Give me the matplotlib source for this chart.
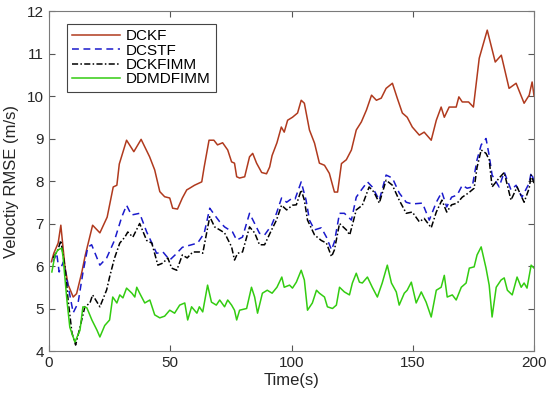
import numpy as np
import matplotlib
matplotlib.use('Agg')
import matplotlib.pyplot as plt

plt.rcParams['font.family'] = ['Liberation Sans', 'DejaVu Sans']

# data
t_dckf = [1, 2, 3.8, 4.9, 6.6, 7.9, 10, 11.4, 13.5, 15, 18, 21, 24, 26.5, 28, 29, 32, 35, 38,
          41.5, 43.6, 45.7, 47.7, 49.8, 51, 53, 55, 56.8, 58, 60, 63, 64, 66, 68, 69.5, 71.6,
          73.7, 75.3, 76.5, 77.4, 78.6, 80.7, 82.7, 84, 85.6, 87.7, 89.7, 91, 92, 94, 95.8, 97,
          98.4, 100.4, 102.5, 104, 105.3, 107.4, 109.5, 111.5, 113.6, 115.6, 117.7, 119, 120.6,
          122.6, 124.7, 126.7, 128.8, 130.9, 133, 135, 137, 139, 141.6, 143.6, 145.7, 147.7,
          149.8, 152.7, 154.7, 157.6, 159.7, 161.7, 163, 165, 167.9, 169, 170.4, 173, 175,
          177.4, 180.7, 184, 186.5, 189.7, 192.6, 195.9, 198, 199.2, 200]
v_dckf = [6.1, 6.3, 6.54, 6.96, 5.98, 5.56, 5.27, 5.35, 5.84, 6.26, 6.96, 6.78, 7.15, 7.86, 7.9,
          8.4, 8.96, 8.69, 8.98, 8.57, 8.26, 7.75, 7.63, 7.6, 7.36, 7.34, 7.6, 7.79, 7.83, 7.9,
          7.98, 8.33, 8.96, 8.96, 8.85, 8.9, 8.73, 8.45, 8.42, 8.1, 8.07, 8.1, 8.57, 8.65, 8.42,
          8.2, 8.17, 8.33, 8.6, 8.9, 9.27, 9.15, 9.43, 9.5, 9.6, 9.9, 9.83, 9.2, 8.89, 8.42,
          8.37, 8.18, 7.74, 7.74, 8.41, 8.5, 8.73, 9.2, 9.39, 9.67, 10.02, 9.9, 9.95, 10.18,
          10.3, 9.95, 9.6, 9.5, 9.27, 9.08, 9.15, 8.96, 9.43, 9.74, 9.5, 9.74, 9.74, 9.98, 9.86,
          9.86, 9.74, 10.89, 11.55, 10.8, 10.96, 10.18, 10.3, 9.83, 10.02, 10.33, 10.0]

t_dcstf = [1.7, 3.2, 4.2, 6, 8, 10, 12, 14, 16, 17.6, 21, 23.8, 27, 30, 32, 34, 37.4, 40.3,
           44.4, 47, 49.8, 52, 55, 58.8, 61.3, 64, 66.3, 68.3, 70.4, 72.4, 75.7, 77.4, 79.8,
           82.7, 84.8, 86.8, 88.9, 91.8, 93.8, 95.9, 98, 100.4, 101.5, 104, 106, 107.4, 109.5,
           112.3, 114.4, 116.5, 117.7, 119.8, 121.8, 124.7, 126.7, 128.8, 131.3, 133.3, 136.2,
           139, 141.6, 144.4, 147.3, 149.8, 154, 156.8, 159.7, 162, 164, 166, 168.3, 170.4,
           172.4, 174.5, 176.5, 178.2, 180.2, 181.5, 182.7, 185.6, 187.7, 190.5, 192.6, 195,
           198, 198.8, 200]
v_dcstf = [6.1, 6.3, 5.86, 6.1, 5.5, 4.9, 5.13, 5.84, 6.44, 6.5, 6.02, 6.19, 6.6, 7.15, 7.43,
           7.2, 7.24, 6.8, 6.3, 6.33, 6.14, 6.26, 6.44, 6.5, 6.54, 6.77, 7.36, 7.2, 7.04, 6.92,
           6.8, 6.61, 6.68, 7.24, 7.0, 6.77, 6.73, 6.96, 7.24, 7.6, 7.5, 7.6, 7.58, 7.98, 7.55,
           7.08, 6.85, 6.9, 6.68, 6.38, 6.57, 7.24, 7.24, 7.08, 7.62, 7.79, 7.98, 7.86, 7.55,
           8.14, 8.07, 7.72, 7.5, 7.46, 7.48, 7.08, 7.5, 7.74, 7.39, 7.62, 7.67, 7.9, 7.83,
           7.86, 8.5, 8.85, 9.0, 8.6, 8.14, 7.86, 8.21, 7.79, 7.9, 7.62, 7.95, 8.2, 8.0]

t_dckfimm = [1.7, 3.7, 4.9, 6.6, 7.9, 9.5, 11, 12.8, 14.8, 16.9, 18, 21, 23.8, 25, 27, 29.2,
             31.3, 32.5, 34.6, 37.4, 40.3, 42.4, 44.9, 47, 49, 50.6, 52.7, 55, 57, 59.3, 62,
             63.4, 66.3, 68.3, 70.4, 72.4, 75.3, 76.5, 77.8, 79.8, 82.7, 84.8, 86.8, 88.9,
             91.8, 93.8, 95.9, 98, 100.4, 102, 104, 105.3, 106.6, 109.5, 112.3, 114.4, 116.5,
             117.7, 119.8, 122.6, 124, 126.7, 129.2, 132, 134, 136.2, 139, 141.6, 144.4, 147.3,
             149.8, 152.7, 154.7, 157.6, 159.7, 162, 164, 166, 168.3, 170.4, 173, 175.3, 176.5,
             178.2, 180.2, 181.5, 182.7, 185.6, 187.7, 190.5, 193, 195.9, 198, 198.8, 200]
v_dckfimm = [6.19, 6.38, 6.6, 5.98, 5.2, 4.42, 4.14, 4.56, 5.04, 5.13, 5.32, 5.04, 5.44, 5.74,
             6.18, 6.54, 6.68, 6.8, 6.68, 7.0, 6.6, 6.54, 6.02, 6.07, 6.19, 5.95, 5.9, 6.26,
             6.19, 6.33, 6.33, 6.3, 7.16, 6.92, 6.85, 6.78, 6.45, 6.14, 6.3, 6.33, 6.92, 6.78,
             6.5, 6.5, 6.85, 7.08, 7.43, 7.32, 7.43, 7.44, 7.79, 7.55, 7.08, 6.73, 6.6, 6.54,
             6.22, 6.38, 7.0, 6.85, 6.73, 7.32, 7.43, 7.86, 7.74, 7.48, 8.02, 7.9, 7.55, 7.24,
             7.27, 7.04, 7.12, 6.9, 7.27, 7.55, 7.27, 7.44, 7.48, 7.62, 7.72, 7.83, 8.32, 8.73,
             8.65, 8.5, 7.86, 8.07, 8.2, 7.55, 7.86, 7.5, 7.83, 8.14, 7.95]

t_ddmd = [1.2, 2.5, 3.7, 5.3, 5.8, 7.4, 8.6, 10.7, 12.8, 14, 15.6, 17.7, 19.8, 21, 23, 25,
          26.3, 28, 29.2, 30.5, 32, 34.2, 35.4, 36.2, 37.4, 39.5, 41.6, 43.6, 45.7, 47.7, 49.8,
          51.8, 53.9, 56, 57.2, 58.8, 61, 62, 63.4, 65.4, 67, 69, 70.4, 72.4, 73.7, 75.3, 76.5,
          77.4, 78.6, 81.5, 83.5, 84.8, 86, 88, 90, 92, 94, 96, 97, 99.2, 100.4, 102, 104,
          105.3, 106.6, 108.6, 110.3, 111.5, 113.6, 114.8, 116.9, 118.5, 119.8, 121.8, 123.9,
          125.1, 126.7, 128, 129.2, 131.3, 133.3, 135.4, 137.4, 139.5, 141.2, 143.2, 144.4,
          146.5, 147.7, 149.4, 151.4, 153.5, 155.5, 157.6, 159.7, 161.7, 163, 164.2, 166.3,
          167.9, 170, 172, 173.3, 175.3, 176.5, 178.2, 180.2, 181.5, 182.7, 184.4, 186.4,
          187.7, 189, 191, 193, 194.7, 195.9, 197.1, 198.8, 200]
v_ddmd = [5.86, 6.26, 6.38, 6.42, 6.22, 5.2, 4.56, 4.21, 4.49, 5.04, 5.02, 4.73, 4.49, 4.33,
          4.6, 4.73, 5.27, 5.13, 5.32, 5.25, 5.48, 5.36, 5.27, 5.5, 5.36, 5.13, 5.2, 4.85,
          4.78, 4.82, 4.96, 4.89, 5.08, 5.13, 4.73, 5.04, 4.89, 5.04, 4.92, 5.55, 5.15, 5.08,
          5.2, 5.04, 5.2, 5.08, 4.96, 4.73, 4.96, 5.0, 5.5, 5.27, 4.89, 5.36, 5.43, 5.36, 5.5,
          5.74, 5.5, 5.55, 5.48, 5.62, 5.9, 5.67, 4.96, 5.13, 5.43, 5.36, 5.27, 5.04, 5.0,
          5.08, 5.5, 5.39, 5.32, 5.6, 5.83, 5.62, 5.6, 5.74, 5.5, 5.27, 5.6, 6.02, 5.6, 5.39,
          5.08, 5.36, 5.43, 5.62, 5.13, 5.39, 5.15, 4.8, 5.43, 5.5, 5.78, 5.27, 5.32, 5.2,
          5.5, 5.6, 5.95, 5.98, 6.26, 6.45, 5.95, 5.55, 4.8, 5.5, 5.67, 5.72, 5.43, 5.32,
          5.74, 5.5, 5.6, 5.48, 6.02, 5.95]

fig = plt.figure(figsize=(5.5, 3.99), dpi=100)
ax = fig.add_axes([0.089, 0.1203, 0.882, 0.8521])

ax.plot(t_dckf, v_dckf, color='#B03A1E', lw=1.1, label='DCKF')
ax.plot(t_dcstf, v_dcstf, color='#1A1ACC', lw=1.1, linestyle=(0, (4.5, 3)), label='DCSTF')
ax.plot(t_dckfimm, v_dckfimm, color='black', lw=1.1, linestyle=(0, (4, 1.5, 1, 1.5)), label='DCKFIMM')
ax.plot(t_ddmd, v_ddmd, color='#33CC11', lw=1.1, label='DDMDFIMM')

ax.set_xlim(0, 200)
ax.set_ylim(4, 12)
ax.set_xticks([0, 50, 100, 150, 200])
ax.set_yticks(range(4, 13))
ax.tick_params(direction='in', top=True, right=True, labelsize=11, length=4,
               color='#555555', labelcolor='#262626')
for s in ax.spines.values():
    s.set_color('#7a7a7a')
    s.set_linewidth(0.8)

ax.set_xlabel('Time(s)', fontsize=12, color='#262626', labelpad=2)
ax.set_ylabel('Veloctiy RMSE (m/s)', fontsize=12, color='#262626', labelpad=6)

leg = ax.legend(loc='upper left', bbox_to_anchor=(0.037, 0.962), borderaxespad=0, fontsize=11,
                handlelength=3.1, fancybox=False, framealpha=1, borderpad=0.35,
                labelspacing=0.02, handletextpad=0.4)
leg.get_frame().set_edgecolor('#444444')
leg.get_frame().set_linewidth(0.8)

fig.savefig('out.png', dpi=100)
